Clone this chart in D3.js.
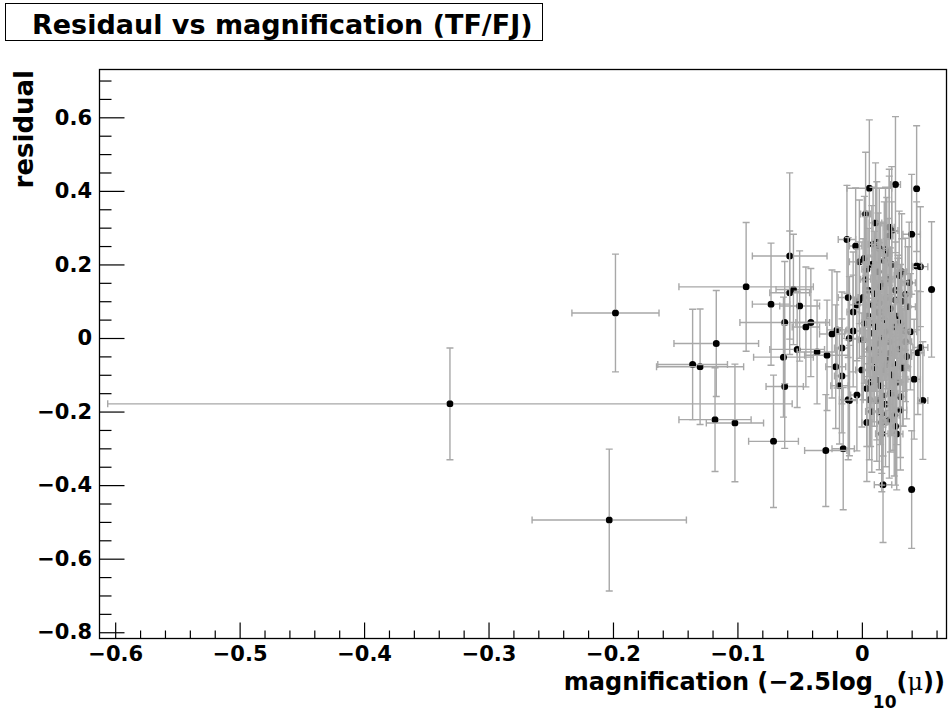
<!DOCTYPE html>
<html>
<head>
<meta charset="utf-8">
<script src="https://cdn.jsdelivr.net/npm/d3@7"></script>
<style>
body { margin: 0; background: #fff; }
text { font-family: "DejaVu Sans", sans-serif; font-weight: bold; fill: #000; }
</style>
</head>
<body>
<svg id="chart"></svg>
<script>
// magnification (-2.5 log10(mu)) and its error
const magnification = [
	0.003, 0.005, 0.006, 0.007, 0.008, 0.008, 0.010, 0.010, 0.011, 0.012,
	0.013, 0.013, 0.014, 0.015, 0.015, 0.016, 0.017, 0.018, 0.018, 0.019,
	0.020, 0.021, 0.021, 0.022, 0.023, 0.023, 0.024, 0.025, 0.026, 0.026,
	0.027, 0.028, 0.029, 0.030, 0.030, 0.031, 0.032, 0.033, 0.034, 0.004,
	0.012, 0.019, 0.027, 0.009, 0.016, 0.024, 0.031, 0.036, 0.038, 0.001,
	-0.331, -0.198, -0.203, -0.093, -0.117, -0.136, -0.130, -0.118, -0.102, -0.071,
	-0.029, -0.015, 0.017, 0.040, -0.058, -0.012, 0.006, 0.027, 0.044, 0.056,
	-0.073, -0.055, -0.058, -0.050, -0.062, -0.041, -0.045, -0.024, -0.020, -0.052,
	-0.036, -0.028, -0.063, -0.016, -0.021, -0.016, -0.062, -0.018, -0.011, -0.011,
	-0.005, 0.003, 0.011, 0.022, 0.024, 0.022, 0.040, 0.009, 0.014, 0.002,
	0.020, -0.002, 0.047, 0.044, -0.004, 0.004, -0.007, -0.007, -0.010, 0.017,
	0.035, 0.037, 0.039, 0.047, 0.045, 0.033, 0.042, 0.049, -0.010, 0.014,
	0.016, -0.004, 0.004, 0.017, 0.025, 0.001, 0.017, 0.020, 0.002, 0.009,
	0.035, 0.032, 0.009, 0.025, 0.012, 0.022, -0.002, 0.014, 0.009, 0.016,
	0.028, 0.005, 0.027, 0.012, 0.022, 0.006, 0.029, 0.019, 0.031, 0.000
];
const magErr = [
	0.004, 0.004, 0.005, 0.004, 0.004, 0.005, 0.004, 0.004, 0.005, 0.004,
	0.004, 0.004, 0.004, 0.005, 0.004, 0.004, 0.004, 0.004, 0.005, 0.004,
	0.004, 0.004, 0.004, 0.005, 0.004, 0.004, 0.004, 0.004, 0.005, 0.004,
	0.004, 0.004, 0.004, 0.005, 0.004, 0.004, 0.004, 0.004, 0.005, 0.004,
	0.004, 0.004, 0.004, 0.005, 0.004, 0.004, 0.004, 0.004, 0.005, 0.004,
	0.275, 0.035, 0.062, 0.054, 0.034, 0.028, 0.035, 0.029, 0.023, 0.020,
	0.017, 0.009, 0.007, 0.002, 0.030, 0.007, 0.018, 0.004, 0.002, 0.002,
	0.015, 0.014, 0.016, 0.016, 0.036, 0.012, 0.011, 0.010, 0.008, 0.022,
	0.016, 0.018, 0.024, 0.006, 0.008, 0.006, 0.015, 0.007, 0.007, 0.008,
	0.005, 0.004, 0.005, 0.004, 0.005, 0.003, 0.007, 0.004, 0.006, 0.004,
	0.004, 0.008, 0.006, 0.004, 0.006, 0.004, 0.005, 0.006, 0.006, 0.005,
	0.005, 0.006, 0.005, 0.006, 0.005, 0.005, 0.005, 0.004, 0.006, 0.005,
	0.004, 0.005, 0.004, 0.005, 0.004, 0.004, 0.004, 0.004, 0.004, 0.004,
	0.005, 0.004, 0.004, 0.004, 0.004, 0.004, 0.004, 0.004, 0.004, 0.005,
	0.005, 0.004, 0.004, 0.004, 0.004, 0.005, 0.004, 0.004, 0.005, 0.005
];
// residual and its error
const residual = [
	0.160, 0.060, -0.030, -0.120, 0.200, -0.200, 0.120, -0.080, 0.030, -0.170,
	0.180, 0.070, -0.040, -0.130, 0.140, 0.000, -0.090, 0.210, 0.050, -0.180,
	0.110, -0.060, 0.160, -0.010, -0.150, 0.080, 0.200, -0.070, 0.030, -0.210,
	0.130, -0.120, 0.060, -0.030, 0.170, -0.160, 0.100, -0.080, 0.020, -0.230,
	0.260, 0.240, -0.240, 0.090, -0.230, -0.100, 0.040, -0.050, 0.150, 0.110,
	-0.179, 0.068, -0.495, 0.139, -0.015, -0.072, -0.078, -0.222, -0.231, -0.281,
	-0.306, -0.301, -0.399, -0.412, 0.223, 0.268, 0.407, 0.417, 0.406, 0.132,
	0.092, 0.132, 0.123, 0.087, 0.042, 0.042, 0.030, 0.011, 0.022, -0.031,
	-0.038, -0.047, -0.052, -0.027, -0.078, -0.103, -0.132, -0.130, -0.168, 0.110,
	0.250, 0.337, 0.313, 0.301, 0.292, 0.277, 0.282, 0.255, 0.244, 0.217,
	0.230, 0.207, 0.194, 0.196, 0.090, 0.187, 0.071, 0.019, -0.001, 0.149,
	0.119, 0.085, 0.017, -0.026, -0.040, -0.082, -0.112, -0.170, -0.170, -0.200,
	-0.205, -0.155, -0.137, -0.158, -0.150, -0.005, 0.071, 0.017, 0.040, 0.013,
	-0.010, 0.180, -0.060, -0.105, -0.014, -0.042, 0.103, 0.096, 0.040, -0.260,
	-0.261, 0.130, 0.103, -0.114, -0.223, -0.168, 0.049, -0.073, -0.196, -0.087
];
const resErr = [
	0.170, 0.165, 0.160, 0.175, 0.160, 0.165, 0.170, 0.160, 0.175, 0.165,
	0.160, 0.170, 0.165, 0.160, 0.175, 0.165, 0.170, 0.160, 0.165, 0.170,
	0.160, 0.175, 0.165, 0.170, 0.160, 0.165, 0.170, 0.160, 0.175, 0.165,
	0.160, 0.170, 0.165, 0.160, 0.175, 0.165, 0.170, 0.160, 0.165, 0.160,
	0.165, 0.170, 0.160, 0.165, 0.170, 0.165, 0.160, 0.170, 0.165, 0.160,
	0.152, 0.160, 0.193, 0.175, 0.144, 0.150, 0.157, 0.141, 0.160, 0.180,
	0.152, 0.166, 0.157, 0.160, 0.226, 0.147, 0.186, 0.185, 0.171, 0.184,
	0.166, 0.150, 0.168, 0.150, 0.166, 0.147, 0.163, 0.174, 0.158, 0.158,
	0.141, 0.150, 0.163, 0.152, 0.168, 0.155, 0.168, 0.158, 0.163, 0.163,
	0.158, 0.168, 0.163, 0.158, 0.174, 0.163, 0.163, 0.155, 0.163, 0.168,
	0.152, 0.168, 0.163, 0.174, 0.152, 0.158, 0.163, 0.152, 0.168, 0.163,
	0.152, 0.163, 0.158, 0.152, 0.168, 0.158, 0.163, 0.160, 0.150, 0.158,
	0.163, 0.152, 0.158, 0.163, 0.155, 0.163, 0.168, 0.155, 0.163, 0.158,
	0.163, 0.158, 0.168, 0.158, 0.163, 0.155, 0.158, 0.163, 0.158, 0.158,
	0.152, 0.168, 0.158, 0.163, 0.158, 0.163, 0.168, 0.158, 0.163, 0.155
];

const xTicks = [-0.6, -0.5, -0.4, -0.3, -0.2, -0.1, 0];
const yTicks = [-0.8, -0.6, -0.4, -0.2, 0, 0.2, 0.4, 0.6];
const xDomain = [-0.6126, 0.068];
const yDomain = [-0.817, 0.730];

const titleText = 'Residaul vs magnification (TF/FJ)';

const width = 950;
const height = 713;
const frame = { left: 99.5, right: 946.5, top: 69.5, bottom: 638.5 };

const svg = d3.select('#chart')
	.attr('width', width)
	.attr('height', height);

const xScale = d3.scaleLinear().domain(xDomain).range([frame.left, frame.right]);
const yScale = d3.scaleLinear().domain(yDomain).range([frame.bottom, frame.top]);

const fmt = d => d === 0 ? '0' : d3.format('.1f')(d);

// minor ticks
const xMinor = d3.range(-0.6, 0.0601, 0.02).filter(v => Math.abs(Math.round(v * 10) - v * 10) > 1e-6);
const yMinor = d3.range(-0.8, 0.7201, 0.05).filter(v => Math.abs(Math.round(v * 5) - v * 5) > 1e-6);

svg.append('g')
	.attr('transform', `translate(0,${frame.bottom})`)
	.call(d3.axisBottom(xScale).tickValues(xMinor).tickSize(-8).tickFormat(''))
	.call(g => g.select('.domain').remove());

svg.append('g')
	.attr('transform', `translate(${frame.left},0)`)
	.call(d3.axisLeft(yScale).tickValues(yMinor).tickSize(-12).tickFormat(''))
	.call(g => g.select('.domain').remove());

const xAxisGroup = svg.append('g')
	.attr('transform', `translate(0,${frame.bottom})`)
	.call(d3.axisBottom(xScale).tickValues(xTicks).tickSize(-16).tickPadding(8).tickFormat(fmt));
xAxisGroup.select('.domain').remove();
xAxisGroup.selectAll('text').attr('font-size', 21);

const yAxisGroup = svg.append('g')
	.attr('transform', `translate(${frame.left},0)`)
	.call(d3.axisLeft(yScale).tickValues(yTicks).tickSize(-25).tickPadding(7.5).tickFormat(fmt));
yAxisGroup.select('.domain').remove();
yAxisGroup.selectAll('text').attr('font-size', 21);

svg.selectAll('.tick line').attr('stroke', '#000').attr('stroke-width', 1.2);

// markers first, then error bars over them
const data = magnification.map((x, i) => ({ x, y: residual[i], ex: magErr[i], ey: resErr[i] }));
const r = 3.5;
const cap = 3.5;
const barColor = '#a8a8a8';

svg.append('g')
	.selectAll('circle')
	.data(data)
	.join('circle')
	.attr('cx', d => xScale(d.x))
	.attr('cy', d => yScale(d.y))
	.attr('r', r)
	.attr('fill', '#000');

svg.append('g')
	.selectAll('path')
	.data(data)
	.join('path')
	.attr('fill', 'none')
	.attr('stroke', barColor)
	.attr('stroke-width', 1.4)
	.attr('d', d => {
		const cx = xScale(d.x), cy = yScale(d.y);
		const x0 = xScale(d.x - d.ex), x1 = xScale(d.x + d.ex);
		const y0 = yScale(d.y + d.ey), y1 = yScale(d.y - d.ey);
		let p = '';
		if (cx - x0 > r) p += `M${cx - r},${cy}H${x0}M${x0},${cy - cap}V${cy + cap}`;
		if (x1 - cx > r) p += `M${cx + r},${cy}H${x1}M${x1},${cy - cap}V${cy + cap}`;
		p += `M${cx},${cy - r}V${y0}M${cx - cap},${y0}H${cx + cap}`;
		p += `M${cx},${cy + r}V${y1}M${cx - cap},${y1}H${cx + cap}`;
		return p;
	});

// frame
svg.append('rect')
	.attr('x', frame.left)
	.attr('y', frame.top)
	.attr('width', frame.right - frame.left)
	.attr('height', frame.bottom - frame.top)
	.attr('fill', 'none')
	.attr('stroke', '#000')
	.attr('stroke-width', 1.3);

// title box
svg.append('rect')
	.attr('x', 5.5)
	.attr('y', 3.5)
	.attr('width', 537)
	.attr('height', 37)
	.attr('fill', '#fff')
	.attr('stroke', '#000')
	.attr('stroke-width', 1);

svg.append('text')
	.attr('x', 32)
	.attr('y', 33.5)
	.attr('font-size', 27)
	.text(titleText);

// axis titles
svg.append('text')
	.attr('transform', 'translate(33,70) rotate(-90)')
	.attr('text-anchor', 'end')
	.attr('font-size', 26)
	.text('residual');

const xTitle = svg.append('text')
	.attr('x', 945)
	.attr('y', 690)
	.attr('text-anchor', 'end')
	.attr('font-size', 24);
xTitle.append('tspan').text('magnification (−2.5log');
xTitle.append('tspan').attr('dy', 18).attr('font-size', 17).text('10');
xTitle.append('tspan').attr('dy', -18).text('(');
xTitle.append('tspan').attr('font-family', '"DejaVu Serif", serif').attr('font-weight', 'normal').text('μ');
xTitle.append('tspan').text('))');
</script>
</body>
</html>
